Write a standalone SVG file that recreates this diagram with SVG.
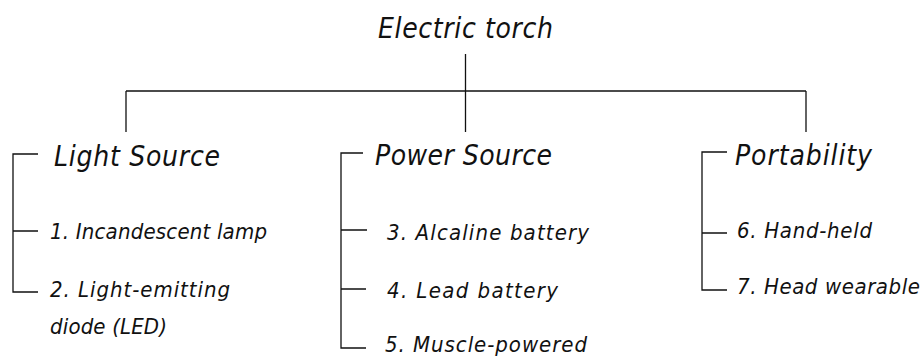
<svg xmlns="http://www.w3.org/2000/svg" width="921" height="357" viewBox="0 0 921 357">
<style>
.t{font-family:"Liberation Sans Narrow","DejaVu Sans Condensed","Liberation Sans",sans-serif;font-style:italic;fill:#111}
.h{font-size:28px}
.i{font-size:22px}
.c{fill:none;stroke:#111;stroke-width:1.3}
</style>
<rect width="921" height="357" fill="#fff"/>
<g id="connectors">
<path class="c" d="M465.5 54V132M126 91H806M126 91V132M806 91V132"/>
<path class="c" d="M38 154H13V292H38M13 231H38"/>
<path class="c" d="M363 153H341V348H366M341 230H367M341 289H366"/>
<path class="c" d="M727 152H702V290H727M702 233H727"/>
</g>
<g id="root"><text class="t h" x="378" y="38" textLength="175" lengthAdjust="spacing">Electric torch</text></g>
<g id="light-source"><text class="t h" x="54" y="166" textLength="166" lengthAdjust="spacing">Light Source</text></g>
<g id="item1"><text class="t i" x="50" y="239" textLength="217" lengthAdjust="spacing">1. Incandescent lamp</text></g>
<g id="item2"><text class="t i" x="50" y="297" textLength="180" lengthAdjust="spacing">2. Light-emitting</text><text class="t i" x="50" y="334" textLength="117" lengthAdjust="spacing">diode (LED)</text></g>
<g id="power-source"><text class="t h" x="375" y="165" textLength="177" lengthAdjust="spacing">Power Source</text></g>
<g id="item3"><text class="t i" x="387" y="240" textLength="202" lengthAdjust="spacing">3. Alcaline battery</text></g>
<g id="item4"><text class="t i" x="387" y="298" textLength="171" lengthAdjust="spacing">4. Lead battery</text></g>
<g id="item5"><text class="t i" x="385" y="352" textLength="202" lengthAdjust="spacing">5. Muscle-powered</text></g>
<g id="portability"><text class="t h" x="735" y="165" textLength="137" lengthAdjust="spacing">Portability</text></g>
<g id="item6"><text class="t i" x="737" y="238" textLength="135" lengthAdjust="spacing">6. Hand-held</text></g>
<g id="item7"><text class="t i" x="737" y="294" textLength="183" lengthAdjust="spacing">7. Head wearable</text></g>
</svg>
